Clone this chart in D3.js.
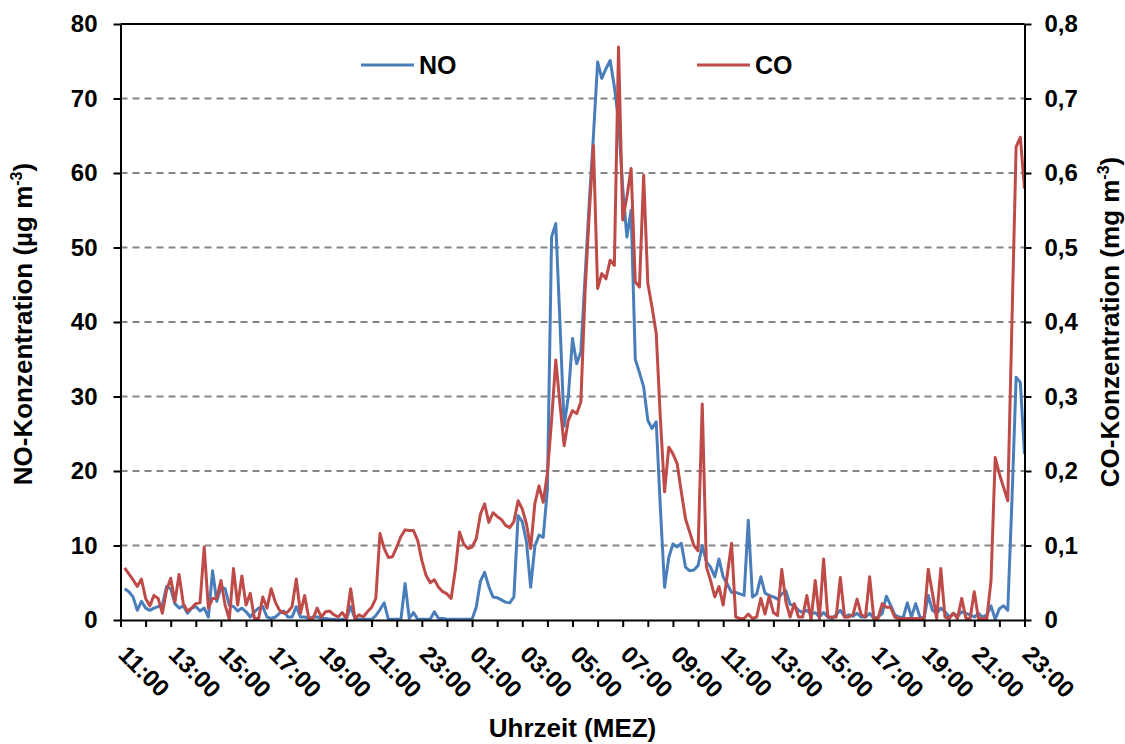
<!DOCTYPE html>
<html>
<head>
<meta charset="utf-8">
<script src="https://cdn.jsdelivr.net/npm/d3@7/dist/d3.min.js"></script>
<style>
  html, body { margin: 0; padding: 0; background: #fff; }
  svg { display: block; }
  text { font-family: "Liberation Sans", Arial, Helvetica, sans-serif; font-weight: bold; fill: #000; }
</style>
</head>
<body>
<svg id="chart" width="1125" height="744"></svg>
<script>
// 10-minute samples, first value at 11:10, last at 23:00 on the following day
const stepMinutes = 10;
const firstSample = 10;

// NO concentration in µg m-3
const noValues = [
  4.2, 3.8, 3.1, 1.3, 2.5, 1.6, 1.3, 1.6, 1.8, 2.0,
  4.5, 4.2, 2.2, 1.6, 1.9, 0.9, 1.6, 1.8, 1.2, 1.6,
  0.4, 6.6, 2.5, 4.4, 4.2, 2.0, 1.8, 1.2, 1.6, 1.1,
  0.4, 1.1, 1.6, 1.8, 0.4, 0.2, 0.4, 0.9, 1.2, 0.4,
  0.4, 1.8, 0.4, 0.4, 0.2, 0.4, 0.4, 0.2, 0.2, 0.1,
  0.1, 0.0, 0.1, 0.2, 1.8, 0.2, 0.1, 0.1, 0.1, 0.1,
  0.6, 1.4, 2.3, 0.1, 0.1, 0.1, 0.1, 4.9, 0.2, 1.0,
  0.1, 0.1, 0.1, 0.1, 1.1, 0.2, 0.2, 0.1, 0.1, 0.1,
  0.1, 0.1, 0.1, 0.1, 1.7, 5.2, 6.4, 4.5, 3.1, 3.0,
  2.7, 2.4, 2.3, 3.1, 14.0, 13.2, 10.5, 4.4, 9.9, 11.4,
  11.1, 17.5, 51.4, 53.2, 40.0, 26.0, 30.0, 37.8, 34.4, 36.0,
  46.0, 56.0, 65.0, 74.9, 72.7, 74.0, 75.1, 71.6, 67.0, 58.0,
  51.4, 55.0, 35.0, 33.2, 31.3, 26.8, 25.7, 26.6, 15.0, 4.4,
  8.4, 10.2, 9.8, 10.3, 7.1, 6.6, 6.7, 7.3, 10.0, 7.8,
  7.1, 5.8, 8.2, 5.8, 4.8, 3.7, 3.7, 3.5, 3.3, 13.4,
  3.1, 3.5, 5.8, 3.6, 3.3, 3.1, 2.8, 3.5, 3.9, 2.1,
  1.9, 1.3, 1.0, 1.3, 0.8, 1.0, 0.4, 1.0, 0.4, 0.2,
  0.7, 1.3, 0.4, 0.7, 0.5, 0.9, 0.4, 0.4, 0.9, 0.2,
  0.4, 0.9, 3.2, 2.0, 0.7, 0.4, 0.3, 2.3, 0.4, 2.2,
  0.4, 0.2, 3.3, 1.3, 0.9, 1.6, 1.1, 0.4, 0.9, 0.5,
  1.1, 0.9, 0.7, 0.4, 0.9, 0.4, 0.7, 1.9, 0.1, 1.5,
  1.9, 1.3, 16.0, 32.6, 31.9, 22.3
];

// CO concentration in mg m-3
const coValues = [
  0.070, 0.062, 0.054, 0.045, 0.055, 0.029, 0.019, 0.033, 0.029, 0.009,
  0.040, 0.056, 0.024, 0.061, 0.022, 0.012, 0.016, 0.022, 0.023, 0.098,
  0.016, 0.029, 0.029, 0.053, 0.020, 0.001, 0.069, 0.020, 0.059, 0.020,
  0.036, 0.002, 0.002, 0.031, 0.016, 0.042, 0.024, 0.013, 0.009, 0.011,
  0.018, 0.055, 0.009, 0.033, 0.002, 0.002, 0.016, 0.004, 0.011, 0.012,
  0.007, 0.004, 0.010, 0.002, 0.042, 0.002, 0.007, 0.004, 0.011, 0.017,
  0.029, 0.116, 0.096, 0.084, 0.085, 0.098, 0.112, 0.121, 0.120, 0.120,
  0.107, 0.080, 0.060, 0.050, 0.054, 0.044, 0.038, 0.035, 0.029, 0.067,
  0.118, 0.102, 0.096, 0.098, 0.109, 0.142, 0.156, 0.131, 0.144, 0.139,
  0.135, 0.127, 0.124, 0.132, 0.160, 0.149, 0.129, 0.096, 0.156, 0.180,
  0.158, 0.197, 0.268, 0.349, 0.290, 0.234, 0.268, 0.281, 0.277, 0.293,
  0.440, 0.545, 0.637, 0.445, 0.465, 0.458, 0.483, 0.476, 0.769, 0.537,
  0.568, 0.606, 0.454, 0.447, 0.597, 0.452, 0.420, 0.385, 0.270, 0.172,
  0.232, 0.223, 0.210, 0.172, 0.136, 0.118, 0.100, 0.093, 0.290, 0.071,
  0.053, 0.031, 0.045, 0.020, 0.061, 0.103, 0.004, 0.002, 0.002, 0.008,
  0.002, 0.004, 0.029, 0.008, 0.032, 0.010, 0.006, 0.068, 0.024, 0.004,
  0.022, 0.004, 0.004, 0.033, 0.000, 0.053, 0.002, 0.082, 0.004, 0.004,
  0.004, 0.057, 0.004, 0.004, 0.007, 0.028, 0.007, 0.004, 0.058, 0.002,
  0.002, 0.022, 0.017, 0.017, 0.004, 0.002, 0.002, 0.002, 0.002, 0.002,
  0.002, 0.002, 0.068, 0.036, 0.002, 0.069, 0.004, 0.002, 0.009, 0.002,
  0.029, 0.002, 0.002, 0.038, 0.002, 0.002, 0.002, 0.053, 0.218, 0.196,
  0.178, 0.160, 0.400, 0.635, 0.648, 0.579
];

// Labelled ticks every two hours (minor ticks every hour)
const timeLabels = [
  "11:00", "13:00", "15:00", "17:00", "19:00", "21:00", "23:00", "01:00", "03:00", "05:00",
  "07:00", "09:00", "11:00", "13:00", "15:00", "17:00", "19:00", "21:00", "23:00"
];
const noTicks = [0, 10, 20, 30, 40, 50, 60, 70, 80];
const coTicks = [0, 0.1, 0.2, 0.3, 0.4, 0.5, 0.6, 0.7, 0.8];
const seriesNames = ["NO", "CO"];
const seriesColors = ["#4A7EBB", "#BE4B48"];

const svg = d3.select("#chart");
const plotLeft = 120.5, plotRight = 1024.5, plotTop = 24, plotBottom = 620;
const spanMinutes = 36 * 60;

const x = d3.scaleLinear().domain([0, spanMinutes]).range([plotLeft, plotRight]);
const yNO = d3.scaleLinear().domain([0, 80]).range([plotBottom, plotTop]);
const yCO = d3.scaleLinear().domain([0, 0.8]).range([plotBottom, plotTop]);

const minuteOf = i => firstSample + i * stepMinutes;

// dashed horizontal grid
svg.append("g")
  .selectAll("line")
  .data(noTicks.filter(v => v > 0 && v < 80))
  .join("line")
  .attr("x1", plotLeft).attr("x2", plotRight)
  .attr("y1", d => yNO(d)).attr("y2", d => yNO(d))
  .attr("stroke", "#868686")
  .attr("stroke-width", 2)
  .attr("stroke-dasharray", "7,5");

// series lines
const lineNO = d3.line().x((d, i) => x(minuteOf(i))).y(d => yNO(d));
const lineCO = d3.line().x((d, i) => x(minuteOf(i))).y(d => yCO(d));

svg.append("path")
  .datum(noValues)
  .attr("d", lineNO)
  .attr("fill", "none")
  .attr("stroke", seriesColors[0])
  .attr("stroke-width", 3)
  .attr("stroke-linejoin", "round");

svg.append("path")
  .datum(coValues)
  .attr("d", lineCO)
  .attr("fill", "none")
  .attr("stroke", seriesColors[1])
  .attr("stroke-width", 3)
  .attr("stroke-linejoin", "round");

// plot frame (top edge)
svg.append("line")
  .attr("x1", plotLeft).attr("x2", plotRight)
  .attr("y1", plotTop).attr("y2", plotTop)
  .attr("stroke", "#000").attr("stroke-width", 2);

// axes
const fmtComma = d => d === 0 ? "0" : d.toFixed(1).replace(".", ",");

const styleAxis = g => {
  g.select(".domain").attr("stroke", "#000").attr("stroke-width", 2);
  g.selectAll(".tick line").attr("stroke", "#000").attr("stroke-width", 2);
  g.selectAll(".tick text").attr("font-size", 24).attr("font-weight", "bold")
    .attr("font-family", '"Liberation Sans", Arial, sans-serif').attr("fill", "#000");
};

svg.append("g")
  .attr("transform", `translate(${plotLeft},0)`)
  .call(d3.axisLeft(yNO).tickValues(noTicks).tickSize(7).tickPadding(16).tickSizeOuter(0))
  .call(styleAxis);

svg.append("g")
  .attr("transform", `translate(${plotRight},0)`)
  .call(d3.axisRight(yCO).tickValues(coTicks).tickFormat(fmtComma).tickSize(7).tickPadding(13).tickSizeOuter(0))
  .call(styleAxis);

const hourTicks = d3.range(0, spanMinutes + 1, 60);
const gBottom = svg.append("g")
  .attr("transform", `translate(0,${plotBottom})`)
  .call(d3.axisBottom(x).tickValues(hourTicks)
    .tickFormat(m => (m / 60) % 2 === 0 ? timeLabels[m / 120] : "")
    .tickSize(7).tickSizeOuter(0))
  .call(styleAxis);

gBottom.selectAll(".tick text")
  .attr("text-anchor", "start")
  .attr("dy", 0)
  .attr("y", 0)
  .attr("transform", "translate(-4,36) rotate(45)");

// axis titles
svg.append("text")
  .attr("x", 572.5).attr("y", 737)
  .attr("text-anchor", "middle")
  .attr("font-size", 26)
  .text("Uhrzeit (MEZ)");

const yTitle = (cx, cy, main, unit) => {
  const t = svg.append("text")
    .attr("transform", `translate(${cx},${cy}) rotate(-90)`)
    .attr("text-anchor", "middle")
    .attr("font-size", 26);
  t.append("tspan").text(main + " (" + unit + " m");
  t.append("tspan").attr("font-size", 16).attr("dy", -10).text("-3");
  t.append("tspan").attr("dy", 10).text(")");
};
yTitle(32, 324, "NO-Konzentration", "µg");
yTitle(1119, 322, "CO-Konzentration", "mg");

// legend
const legendX = [361, 697];
seriesNames.forEach((name, k) => {
  const g = svg.append("g").attr("transform", `translate(${legendX[k]},65)`);
  g.append("line").attr("x1", 0).attr("x2", 53).attr("y1", 0).attr("y2", 0)
    .attr("stroke", seriesColors[k]).attr("stroke-width", 3);
  g.append("text").attr("x", 58).attr("y", 9).attr("font-size", 25).text(name);
});
</script>
</body>
</html>
